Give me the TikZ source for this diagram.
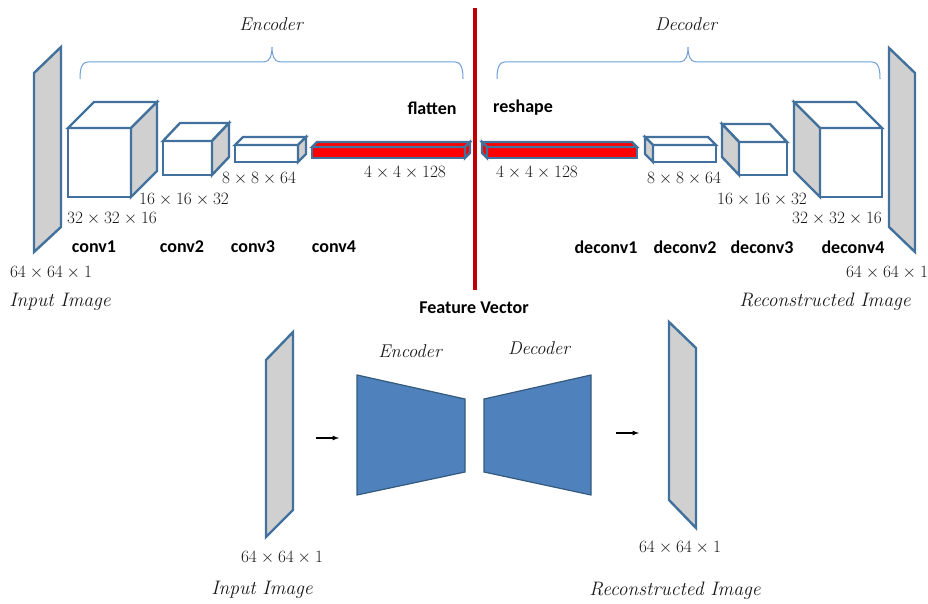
\documentclass[tikz,border=0pt]{standalone}
\usepackage{amsmath}
\usepackage{fontspec}
\usepackage{tikz}
\usetikzlibrary{arrows,calc,positioning}
\newfontfamily\calib{Carlito}
\definecolor{edgeblue}{HTML}{41719C}
\definecolor{planegray}{HTML}{D0D0D0}
\definecolor{encblue}{HTML}{4F81BD}
\definecolor{bracecol}{HTML}{6E9FD6}
\definecolor{cutred}{HTML}{C00000}
\tikzset{
        edge/.style = {draw=edgeblue, line width=2.4pt, line join=miter},
        plane/.style = {edge, fill=planegray},
        trap/.style = {draw=edgeblue!80!black, line width=1.2pt, fill=encblue},
        brc/.style = {draw=bracecol, line width=1pt},
        cut/.style = {draw=cutred, line width=3.5pt},
        arrow/.style = {draw, -latex, line width=1.2pt},
        dimlbl/.style = {text=black!90, font=\fontsize{16}{18}\selectfont},
        lyrname/.style = {font=\calib\bfseries\fontsize{18}{20}\selectfont},
        ttl/.style = {text=black!90, font=\itshape\fontsize{18.5}{20}\selectfont},
        capt/.style = {text=black!90, font=\itshape\fontsize{19.5}{22}\selectfont},
    }
% x1,y1,x2,y2 front face; dx,dy depth; front fill; side fill; side x
\newcommand{\layerbox}[9]{%
    \draw[edge,fill=#7] (#1,#2) rectangle (#3,#4);
    \draw[edge,fill=#7] (#1,#2) -- ({#1+#5},{#2+#6}) -- ({#3+#5},{#2+#6}) -- (#3,#2) -- cycle;
    \draw[edge,fill=#8] (#9,#2) -- ({#9+#5},{#2+#6}) -- ({#9+#5},{#4+#6}) -- (#9,#4) -- cycle;
}
\begin{document}
\begin{tikzpicture}[x=1pt,y=-1pt]
    \useasboundingbox (0,0) rectangle (928,604);

    % top: layer by layer
    \draw[plane] (34,73) -- (61,47) -- (61,227) -- (34,252) -- cycle;
    \layerbox{68}{128}{131}{197}{26}{-26}{white}{planegray}{131}
    \layerbox{163}{141}{212}{175}{17}{-18}{white}{planegray}{212}
    \layerbox{235}{145}{298}{162}{8}{-8}{white}{planegray}{298}
    \layerbox{312}{147}{465}{158}{5}{-5}{red}{red}{465}

    \layerbox{487}{147}{637}{158}{-5}{-5}{red}{red}{487}
    \layerbox{653}{145}{716}{162}{-8}{-8}{white}{planegray}{653}
    \layerbox{739}{142}{787}{175}{-17}{-18}{white}{planegray}{739}
    \layerbox{820}{128}{882}{197}{-26}{-26}{white}{planegray}{820}
    \draw[plane] (889,48) -- (915,73) -- (915,252) -- (889,227) -- cycle;

    \coordinate (cuttop) at (475,8);
    \coordinate (cutbot) at (475,290);
    \draw[cut] (cuttop) -- (cutbot);

    \draw[brc] (80,79) to[out=90,in=180] (88,62) -- (264,62) to[out=0,in=-90] (272,47)
               to[out=-90,in=180] (280,62) -- (455,62) to[out=0,in=90] (463,79);
    \draw[brc] (497,79) to[out=90,in=180] (505,62) -- (680,62) to[out=0,in=-90] (688,47)
               to[out=-90,in=180] (696,62) -- (872,62) to[out=0,in=90] (880,79);

    \node[ttl] (enct) at (271,24) {Encoder};
    \node[ttl] (dect) at (686,24) {Decoder};
    \node[lyrname] (flat) at (432,108) {flatten};
    \node[lyrname] (resh) at (523,108) {reshape};

    \node[dimlbl] (e4) at (405,173) {$4\times4\times128$};
    \node[dimlbl] (e3) at (259,179) {$8\times8\times64$};
    \node[dimlbl] (e2) at (184,200) {$16\times16\times32$};
    \node[dimlbl] (e1) at (112,219) {$32\times32\times16$};
    \node[dimlbl] (e0) at (51,273) {$64\times64\times1$};
    \node[dimlbl] (d4) at (537,173) {$4\times4\times128$};
    \node[dimlbl] (d3) at (684,179) {$8\times8\times64$};
    \node[dimlbl] (d2) at (762,200) {$16\times16\times32$};
    \node[dimlbl] (d1) at (837,219) {$32\times32\times16$};
    \node[dimlbl] (d0) at (887,273) {$64\times64\times1$};

    \node[lyrname] (c1) at (94,247) {conv1};
    \node[lyrname] (c2) at (182,247) {conv2};
    \node[lyrname] (c3) at (253,247) {conv3};
    \node[lyrname] (c4) at (334,247) {conv4};
    \node[lyrname] (dc1) at (606,247) {deconv1};
    \node[lyrname] (dc2) at (685,247) {deconv2};
    \node[lyrname] (dc3) at (762,247) {deconv3};
    \node[lyrname] (dc4) at (853,247) {deconv4};

    \node[capt] (inimg) at (60,302) {Input Image};
    \node[capt] (reimg) at (825,302) {Reconstructed Image};
    \node[lyrname] (fvec) at (474,308) {Feature Vector};

    % bottom: overview
    \draw[plane] (266,360) -- (293,332) -- (293,510) -- (266,537) -- cycle;
    \draw[trap] (357,375) -- (465,399) -- (465,472) -- (357,495) -- cycle;
    \draw[trap] (484,399) -- (591,375) -- (591,495) -- (484,472) -- cycle;
    \draw[plane] (669,322) -- (696,348) -- (696,528) -- (669,500) -- cycle;

    \coordinate (ina) at (316,438);
    \coordinate (inb) at (339,438);
    \coordinate (outa) at (616,433);
    \coordinate (outb) at (639,433);
    \draw[arrow] (ina) -- (inb);
    \draw[arrow] (outa) -- (outb);

    \node[ttl] (encb) at (410,351) {Encoder};
    \node[ttl] (decb) at (539,348) {Decoder};
    \node[dimlbl] (inb0) at (282,558) {$64\times64\times1$};
    \node[dimlbl] (outb0) at (680,548) {$64\times64\times1$};
    \node[capt] (inimgb) at (262,590) {Input Image};
    \node[capt] (reimgb) at (675,591) {Reconstructed Image};
\end{tikzpicture}
\end{document}
